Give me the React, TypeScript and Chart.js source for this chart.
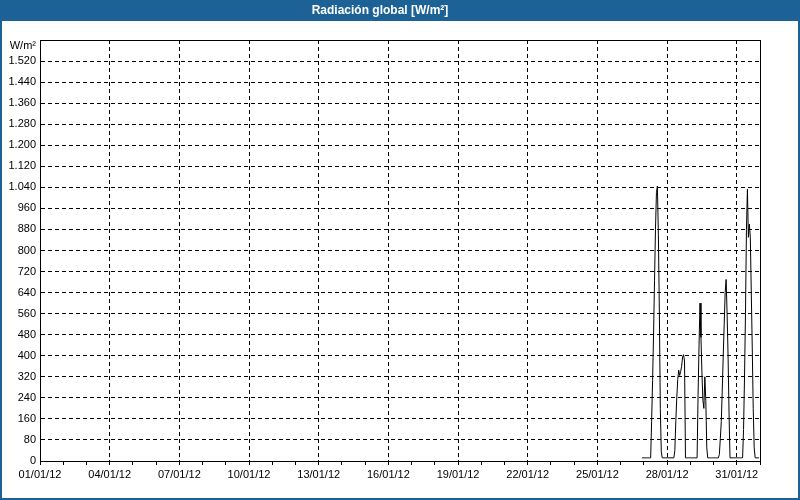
import React, { useEffect, useRef } from 'react';
import { Chart, registerables } from 'chart.js';

Chart.register(...registerables);

const TITLE = 'Radiación global [W/m²]';
const UNIT_LABEL = 'W/m²';
const DATE_SUFFIX = '/01/12';
const DAYS_SHOWN = 31;
const LABEL_EVERY_DAYS = 3;
const Y_MAX = 1600;
const Y_STEP = 80;

// Hourly global radiation (W/m²); first sample is 26/01/12 22:00
const SERIES_START_DAY = 26;
const SERIES_START_HOUR = 22;
const jan26 = [12, 12];
const jan27 = [12, 12, 12, 12, 12, 12, 12, 12, 150, 305, 480, 685, 880, 1020, 1045, 860, 570, 200, 35, 12, 12, 12, 12, 12];
const jan28 = [12, 12, 12, 12, 12, 12, 12, 12, 40, 150, 240, 310, 345, 325, 340, 360, 395, 404, 380, 12, 12, 12, 12, 12];
const jan29 = [12, 12, 12, 12, 12, 12, 12, 12, 250, 440, 600, 470, 335, 230, 200, 320, 230, 50, 12, 12, 12, 12, 12, 12];
const jan30 = [12, 12, 12, 12, 12, 12, 25, 85, 150, 270, 400, 520, 640, 690, 560, 400, 183, 12, 12, 12, 12, 12, 12, 12];
const jan31 = [12, 12, 12, 12, 12, 12, 12, 120, 320, 560, 880, 1033, 850, 900, 850, 640, 430, 200, 50, 12, 12, 12, 12, 12];

const hourlyRadiation = [...jan26, ...jan27, ...jan28, ...jan29, ...jan30, ...jan31];

const BLUE = '#1d6296';
const FONT = 'Liberation Sans';

const pad2 = (n: number) => (n < 10 ? '0' + n : String(n));
const fmtThousands = (v: number) =>
  v >= 1000 ? `${Math.floor(v / 1000)}.${String(v % 1000).padStart(3, '0')}` : String(v);

const framePlugin = {
  id: 'frame',
  beforeDraw(chart: any) {
    const { ctx, width } = chart;
    ctx.save();
    ctx.fillStyle = '#ffffff';
    ctx.fillRect(0, 0, chart.width, chart.height);
    ctx.fillStyle = BLUE;
    ctx.fillRect(0, 0, width, 21);
    ctx.restore();
  },
  afterDraw(chart: any) {
    const { ctx, chartArea: a, width, height } = chart;
    ctx.save();
    ctx.strokeStyle = '#000';
    ctx.lineWidth = 1;
    ctx.setLineDash([]);
    ctx.strokeRect(
      Math.round(a.left) + 0.5,
      Math.round(a.top) + 0.5,
      Math.round(a.right) - Math.round(a.left),
      Math.round(a.bottom) - Math.round(a.top)
    );
    ctx.fillStyle = '#000';
    ctx.font = `11px "${FONT}"`;
    ctx.textAlign = 'right';
    ctx.textBaseline = 'middle';
    ctx.fillText(UNIT_LABEL, Math.round(a.left) - 4, Math.round(a.top) + 6);
    ctx.strokeStyle = BLUE;
    ctx.lineWidth = 2;
    ctx.strokeRect(1, 1, width - 2, height - 2);
    ctx.restore();
  },
};

export default function App() {
  const canvasRef = useRef<HTMLCanvasElement | null>(null);

  useEffect(() => {
    document.body.style.margin = '0';
    const canvas = canvasRef.current;
    if (!canvas) return;
    const startX = (SERIES_START_DAY - 1) * 24 + SERIES_START_HOUR;
    const points = hourlyRadiation.map((v, i) => ({ x: startX + i, y: v }));

    const chart = new Chart(canvas, {
      type: 'line',
      data: {
        datasets: [
          {
            data: points,
            borderColor: '#000',
            borderWidth: 1,
            pointRadius: 0,
            tension: 0,
            fill: false,
          },
        ],
      },
      plugins: [framePlugin],
      options: {
        animation: false,
        responsive: false,
        events: [],
        layout: { padding: { left: 0, right: 40, top: 0, bottom: 0 } },
        plugins: {
          legend: { display: false },
          tooltip: { enabled: false },
          title: {
            display: true,
            text: TITLE,
            color: '#ffffff',
            fullSize: true,
            font: { family: FONT, size: 12, weight: 'bold' },
            padding: { top: 3, bottom: 22.6 },
          },
        },
        scales: {
          x: {
            type: 'linear',
            min: 0,
            max: DAYS_SHOWN * 24,
            afterBuildTicks: (scale: any) => {
              scale.ticks = Array.from({ length: DAYS_SHOWN + 1 }, (_, i) => ({ value: i * 24 }));
            },
            afterFit: (scale: any) => {
              scale.height = 39;
            },
            ticks: {
              autoSkip: false,
              maxRotation: 0,
              minRotation: 0,
              padding: 3,
              color: '#000',
              font: { family: FONT, size: 11 },
              callback: (value: any) => {
                const dayIndex = Math.round(Number(value) / 24);
                if (dayIndex % LABEL_EVERY_DAYS !== 0 || dayIndex >= DAYS_SHOWN) return '';
                return pad2(dayIndex + 1) + DATE_SUFFIX;
              },
            },
            grid: {
              color: (ctx: any) => {
                const v = ctx.tick ? ctx.tick.value : 0;
                const dayIndex = Math.round(v / 24);
                return dayIndex % LABEL_EVERY_DAYS === 0 && dayIndex > 0 && dayIndex < DAYS_SHOWN
                  ? '#000'
                  : 'rgba(0,0,0,0)';
              },
              tickColor: '#000',
              tickLength: 4,
              lineWidth: 1,
            },
            border: { display: true, color: '#000', dash: [4, 3] },
          },
          y: {
            type: 'linear',
            min: 0,
            max: Y_MAX,
            afterBuildTicks: (scale: any) => {
              scale.ticks = Array.from({ length: Y_MAX / Y_STEP + 1 }, (_, i) => ({ value: i * Y_STEP }));
            },
            afterFit: (scale: any) => {
              scale.width = 40;
            },
            ticks: {
              padding: 4,
              color: '#000',
              font: { family: FONT, size: 11 },
              callback: (value: any) => {
                const v = Number(value);
                return v >= Y_MAX ? '' : fmtThousands(v);
              },
            },
            grid: {
              color: (ctx: any) => {
                const v = ctx.tick ? ctx.tick.value : 0;
                return v > 0 && v < Y_MAX ? '#000' : 'rgba(0,0,0,0)';
              },
              drawTicks: false,
              lineWidth: 1,
            },
            border: { display: true, color: '#000', dash: [4, 3] },
          },
        },
      },
    } as any);

    return () => {
      chart.destroy();
    };
  }, []);

  return (
    <div style={{ position: 'absolute', left: 0, top: 0, width: 800, height: 500 }}>
      <canvas ref={canvasRef} width={800} height={500} />
    </div>
  );
}
